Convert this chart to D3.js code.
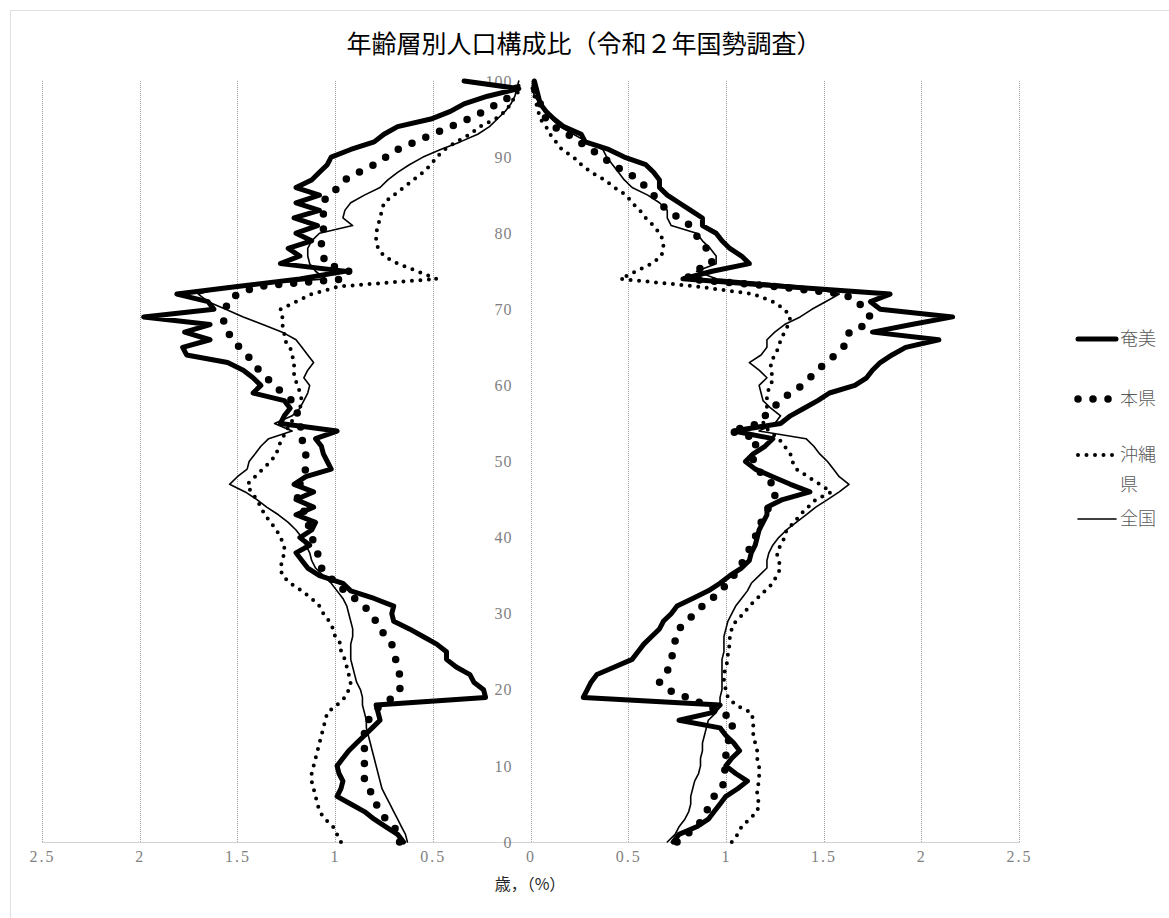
<!DOCTYPE html>
<html>
<head>
<meta charset="utf-8">
<script src="https://cdn.jsdelivr.net/npm/d3@7"></script>
<style>
  body { margin: 0; background: #fff; }
</style>
</head>
<body>
<svg></svg>
<script>
// ages 0 .. 100 (100 = 100歳以上)
var ages = d3.range(0, 101);

var seriesNames = ["奄美", "本県", "沖縄県", "全国"];

// left half
var amamiLeft = [0.65, 0.68, 0.74, 0.80, 0.85, 0.92, 0.99, 0.97, 0.96, 0.98,
    0.99, 0.96, 0.93, 0.89, 0.85, 0.81, 0.77, 0.78, 0.79, 0.23,
    0.24, 0.29, 0.31, 0.38, 0.43, 0.43, 0.48, 0.55, 0.62, 0.70,
    0.71, 0.70, 0.80, 0.92, 0.96, 1.08, 1.14, 1.17, 1.20, 1.13,
    1.18, 1.12, 1.10, 1.20, 1.11, 1.20, 1.11, 1.21, 1.15, 1.02,
    1.04, 1.06, 1.07, 1.10, 0.99, 1.28, 1.26, 1.23, 1.26, 1.42,
    1.38, 1.42, 1.47, 1.55, 1.76, 1.78, 1.64, 1.77, 1.64, 1.98,
    1.62, 1.65, 1.81, 1.50, 1.18, 0.95, 1.28, 1.18, 1.24, 1.12,
    1.20, 1.09, 1.21, 1.08, 1.20, 1.08, 1.20, 1.12, 1.08, 1.04,
    1.02, 0.92, 0.80, 0.75, 0.68, 0.51, 0.41, 0.34, 0.22, 0.06, 0.34];

var kenLeft = [0.67, 0.67, 0.70, 0.74, 0.77, 0.79, 0.80, 0.83, 0.85, 0.85,
    0.85, 0.85, 0.85, 0.85, 0.85, 0.85, 0.83, 0.80, 0.77, 0.70,
    0.67, 0.66, 0.67, 0.68, 0.69, 0.70, 0.71, 0.74, 0.77, 0.79,
    0.82, 0.85, 0.90, 0.95, 1.00, 1.03, 1.07, 1.08, 1.09, 1.10,
    1.12, 1.13, 1.14, 1.15, 1.17, 1.19, 1.20, 1.18, 1.17, 1.15,
    1.15, 1.15, 1.16, 1.17, 1.16, 1.19, 1.19, 1.20, 1.22, 1.27,
    1.31, 1.35, 1.39, 1.42, 1.45, 1.49, 1.52, 1.55, 1.57, 1.57,
    1.56, 1.55, 1.50, 1.40, 0.95, 0.93, 1.05, 1.06, 1.07, 1.07,
    1.06, 1.06, 1.06, 1.06, 1.06, 1.04, 0.98, 0.95, 0.88, 0.80,
    0.74, 0.68, 0.59, 0.50, 0.41, 0.32, 0.24, 0.17, 0.10, 0.07, 0.12];

var okinawaLeft = [0.97, 0.99, 1.01, 1.05, 1.08, 1.09, 1.10, 1.11, 1.12, 1.12,
    1.11, 1.10, 1.09, 1.08, 1.07, 1.06, 1.05, 1.04, 0.99, 0.95,
    0.93, 0.92, 0.93, 0.94, 0.95, 0.97, 0.97, 1.00, 1.01, 1.03,
    1.06, 1.08, 1.12, 1.17, 1.23, 1.27, 1.28, 1.27, 1.26, 1.26,
    1.28, 1.30, 1.33, 1.36, 1.38, 1.40, 1.43, 1.45, 1.41, 1.37,
    1.33, 1.30, 1.29, 1.27, 1.25, 1.23, 1.20, 1.18, 1.17, 1.18,
    1.19, 1.21, 1.21, 1.21, 1.22, 1.23, 1.26, 1.26, 1.27, 1.27,
    1.28, 1.20, 1.12, 0.98, 0.48, 0.58, 0.68, 0.75, 0.78, 0.79,
    0.79, 0.78, 0.77, 0.76, 0.75, 0.70, 0.65, 0.60, 0.55, 0.51,
    0.48, 0.44, 0.38, 0.31, 0.26, 0.18, 0.13, 0.10, 0.08, 0.05, 0.08];

var zenkokuLeft = [0.63, 0.64, 0.66, 0.68, 0.70, 0.72, 0.74, 0.76, 0.77, 0.78,
    0.79, 0.80, 0.81, 0.82, 0.83, 0.84, 0.84, 0.85, 0.86, 0.86,
    0.87, 0.89, 0.90, 0.91, 0.92, 0.92, 0.92, 0.91, 0.91, 0.92,
    0.93, 0.94, 0.96, 0.99, 1.02, 1.06, 1.10, 1.12, 1.13, 1.15,
    1.17, 1.20, 1.24, 1.29, 1.35, 1.40, 1.46, 1.54, 1.50, 1.45,
    1.44, 1.41, 1.38, 1.34, 1.22, 1.31, 1.22, 1.18, 1.16, 1.14,
    1.13, 1.16, 1.14, 1.11, 1.14, 1.17, 1.20, 1.27, 1.37, 1.47,
    1.56, 1.65, 1.70, 1.55, 1.05, 1.10, 1.13, 1.14, 1.14, 1.12,
    1.08, 0.91, 0.96, 0.95, 0.92, 0.85, 0.77, 0.73, 0.68, 0.62,
    0.55, 0.46, 0.36, 0.27, 0.21, 0.17, 0.13, 0.10, 0.08, 0.07, 0.06];

// right half
var amamiRight = [0.73, 0.76, 0.85, 0.91, 0.94, 0.97, 1.00, 1.06, 1.11, 1.05,
    1.00, 1.03, 1.07, 1.04, 1.00, 0.97, 0.76, 0.93, 0.97, 0.27,
    0.29, 0.31, 0.34, 0.43, 0.52, 0.55, 0.58, 0.62, 0.66, 0.68,
    0.72, 0.75, 0.83, 0.91, 0.97, 1.02, 1.08, 1.12, 1.13, 1.15,
    1.16, 1.17, 1.19, 1.21, 1.21, 1.29, 1.43, 1.33, 1.24, 1.15,
    1.10, 1.14, 1.20, 1.24, 1.04, 1.28, 1.33, 1.40, 1.47, 1.53,
    1.66, 1.72, 1.75, 1.79, 1.85, 1.92, 2.09, 1.75, 1.95, 2.16,
    1.79, 1.74, 1.84, 1.30, 0.78, 0.93, 1.12, 1.08, 1.02, 0.98,
    0.95, 0.88, 0.88, 0.82, 0.76, 0.70, 0.66, 0.66, 0.63, 0.59,
    0.48, 0.40, 0.28, 0.26, 0.17, 0.12, 0.08, 0.05, 0.04, 0.03, 0.02];

var kenRight = [0.75, 0.80, 0.85, 0.88, 0.90, 0.92, 0.94, 0.98, 0.99, 0.99,
    1.00, 1.00, 1.00, 1.01, 1.02, 1.03, 1.04, 0.98, 0.90, 0.80,
    0.70, 0.66, 0.69, 0.71, 0.72, 0.73, 0.74, 0.74, 0.76, 0.80,
    0.84, 0.88, 0.93, 0.97, 1.01, 1.04, 1.07, 1.09, 1.11, 1.13,
    1.15, 1.16, 1.18, 1.20, 1.22, 1.24, 1.26, 1.24, 1.20, 1.16,
    1.14, 1.14, 1.15, 1.16, 1.02, 1.17, 1.20, 1.24, 1.28, 1.33,
    1.39, 1.43, 1.47, 1.51, 1.56, 1.60, 1.63, 1.63, 1.72, 1.74,
    1.70, 1.68, 1.60, 1.25, 0.80, 0.83, 0.93, 0.92, 0.90, 0.87,
    0.84, 0.82, 0.76, 0.70, 0.66, 0.63, 0.59, 0.56, 0.49, 0.42,
    0.37, 0.31, 0.25, 0.19, 0.12, 0.08, 0.06, 0.05, 0.03, 0.02, 0.02];

var okinawaRight = [1.03, 1.06, 1.08, 1.12, 1.16, 1.17, 1.16, 1.16, 1.17, 1.17,
    1.17, 1.16, 1.16, 1.15, 1.14, 1.14, 1.14, 1.13, 1.05, 1.01,
    1.00, 0.99, 0.99, 1.00, 1.01, 1.01, 1.02, 1.02, 1.03, 1.05,
    1.09, 1.12, 1.16, 1.20, 1.24, 1.26, 1.28, 1.27, 1.26, 1.28,
    1.30, 1.31, 1.35, 1.38, 1.42, 1.46, 1.54, 1.48, 1.42, 1.36,
    1.34, 1.33, 1.30, 1.27, 1.22, 1.19, 1.21, 1.21, 1.21, 1.21,
    1.23, 1.24, 1.23, 1.23, 1.25, 1.27, 1.28, 1.30, 1.32, 1.33,
    1.30, 1.24, 1.14, 0.85, 0.46, 0.54, 0.62, 0.67, 0.68, 0.68,
    0.66, 0.63, 0.59, 0.56, 0.52, 0.49, 0.43, 0.38, 0.31, 0.26,
    0.22, 0.16, 0.13, 0.10, 0.08, 0.05, 0.04, 0.03, 0.02, 0.01, 0.01];

var zenkokuRight = [0.70, 0.74, 0.76, 0.79, 0.81, 0.82, 0.82, 0.83, 0.84, 0.86,
    0.87, 0.87, 0.88, 0.88, 0.89, 0.90, 0.91, 0.95, 0.97, 0.97,
    0.98, 0.98, 0.98, 0.98, 0.98, 0.99, 0.99, 0.99, 1.00, 1.01,
    1.03, 1.05, 1.08, 1.11, 1.13, 1.17, 1.21, 1.21, 1.22, 1.24,
    1.27, 1.31, 1.36, 1.41, 1.46, 1.52, 1.58, 1.63, 1.58, 1.55,
    1.52, 1.48, 1.45, 1.41, 1.17, 1.25, 1.28, 1.23, 1.19, 1.18,
    1.17, 1.21, 1.17, 1.12, 1.18, 1.21, 1.21, 1.25, 1.30, 1.38,
    1.44, 1.51, 1.58, 1.40, 0.95, 0.85, 0.95, 0.95, 0.92, 0.88,
    0.85, 0.72, 0.70, 0.70, 0.66, 0.60, 0.52, 0.48, 0.45, 0.42,
    0.39, 0.37, 0.29, 0.22, 0.15, 0.11, 0.07, 0.05, 0.02, 0.01, 0.01];

var xTicks = [-2.5, -2, -1.5, -1, -0.5, 0, 0.5, 1, 1.5, 2, 2.5];
var yTicks = [0, 10, 20, 30, 40, 50, 60, 70, 80, 90, 100];

var svgWidth = 1169,
    svgHeight = 918;

var tickFont = "'Liberation Serif', 'DejaVu Serif', serif";
var jpFont = "'Noto Sans CJK JP', sans-serif";

var svg = d3.select("svg")
    .attr("width", svgWidth)
    .attr("height", svgHeight);

// chart border (runs off the right and bottom edges)
svg.append("rect")
    .attr("x", 10.5).attr("y", 10.5)
    .attr("width", 1170).attr("height", 920)
    .attr("fill", "none")
    .attr("stroke", "#bfbfbf")
    .attr("stroke-dasharray", "1,1");

var x = d3.scaleLinear().domain([-2.5, 2.5]).range([42, 1019]);
var y = d3.scaleLinear().domain([0, 100]).range([842, 81]);

// vertical grid
svg.append("g")
    .selectAll("line")
    .data(xTicks)
    .enter().append("line")
    .attr("x1", d => Math.round(x(d)) + 0.5)
    .attr("x2", d => Math.round(x(d)) + 0.5)
    .attr("y1", y(100))
    .attr("y2", y(0))
    .attr("stroke", "#9a9a9a")
    .attr("stroke-width", 1)
    .attr("stroke-dasharray", "1,1");

// bottom axis
var xAxis = d3.axisBottom(x)
    .tickValues(xTicks)
    .tickSize(0)
    .tickPadding(9)
    .tickFormat(d => Math.abs(d));

var gx = svg.append("g")
    .attr("transform", "translate(0," + y(0) + ")")
    .call(xAxis);

gx.select(".domain").attr("stroke", "#a6a6a6").attr("stroke-dasharray", "1,1");
gx.selectAll(".tick text")
    .attr("font-size", 16)
    .attr("font-family", tickFont)
    .attr("fill", "#7f7f7f")
    .attr("letter-spacing", 2);

// age labels next to the centre line
var yAxis = d3.axisLeft(y)
    .tickValues(yTicks)
    .tickSize(0)
    .tickPadding(18);

var gy = svg.append("g")
    .attr("transform", "translate(" + x(0) + ",0)")
    .call(yAxis);

gy.select(".domain").remove();
gy.selectAll(".tick text")
    .attr("font-size", 16)
    .attr("font-family", tickFont)
    .attr("fill", "#7f7f7f")
    .attr("letter-spacing", 1);

// series styles
var styles = {
    "奄美": { width: 5, dash: null },
    "本県": { width: 7.5, dash: "0 15" },
    "沖縄県": { width: 4, dash: "0 8.5" },
    "全国": { width: 1.6, dash: null }
};

var lines = [
    { name: "全国", left: zenkokuLeft, right: zenkokuRight },
    { name: "沖縄県", left: okinawaLeft, right: okinawaRight },
    { name: "本県", left: kenLeft, right: kenRight },
    { name: "奄美", left: amamiLeft, right: amamiRight }
];

var leftLine = d3.line()
    .x(d => x(-d[1]))
    .y(d => y(d[0]));

var rightLine = d3.line()
    .x(d => x(d[1]))
    .y(d => y(d[0]));

var plot = svg.append("g");

lines.forEach(function(s) {
    var st = styles[s.name];
    [[s.left, leftLine], [s.right, rightLine]].forEach(function(p) {
        var pts = ages.map((a, i) => [a, p[0][i]]);
        plot.append("path")
            .datum(pts)
            .attr("d", p[1])
            .attr("fill", "none")
            .attr("stroke", "#000")
            .attr("stroke-width", st.width)
            .attr("stroke-linejoin", "round")
            .attr("stroke-linecap", "round")
            .attr("stroke-dasharray", st.dash);
    });
});

// title
svg.append("text")
    .attr("x", 584)
    .attr("y", 53)
    .attr("text-anchor", "middle")
    .attr("font-family", jpFont)
    .attr("font-size", 25)
    .attr("fill", "#000")
    .text("年齢層別人口構成比（令和２年国勢調査）");

// axis title
svg.append("text")
    .attr("x", 530)
    .attr("y", 890)
    .attr("text-anchor", "middle")
    .attr("font-family", jpFont)
    .attr("font-size", 16)
    .attr("fill", "#262626")
    .text("歳，（%）");

// legend
var legendRows = [
    { name: "奄美", y: 339, label: ["奄美"] },
    { name: "本県", y: 399, label: ["本県"] },
    { name: "沖縄県", y: 455, label: ["沖縄", "県"] },
    { name: "全国", y: 519, label: ["全国"] }
];

var legend = svg.append("g");

legendRows.forEach(function(r) {
    var st = styles[r.name];
    legend.append("line")
        .attr("x1", 1078).attr("x2", 1116)
        .attr("y1", r.y).attr("y2", r.y)
        .attr("stroke", "#000")
        .attr("stroke-width", st.width)
        .attr("stroke-linecap", "round")
        .attr("stroke-dasharray", st.dash);
    r.label.forEach(function(t, i) {
        legend.append("text")
            .attr("x", 1120)
            .attr("y", r.y + 6 + i * 30)
            .attr("font-family", jpFont)
            .attr("font-size", 18)
            .attr("font-weight", 300)
            .attr("fill", "#595959")
            .text(t);
    });
});
</script>
</body>
</html>
